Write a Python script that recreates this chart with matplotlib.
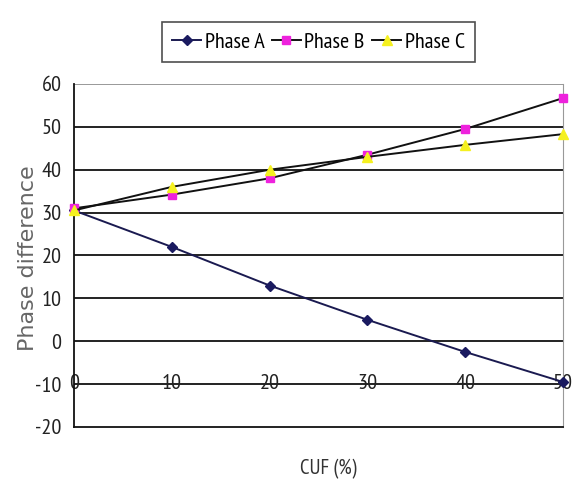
import matplotlib
matplotlib.use("Agg")
import matplotlib.pyplot as plt

plt.rcParams["axes.unicode_minus"] = False

cuf = [0, 10, 20, 30, 40, 50]
phase_a = [30.5, 22, 13, 5, -2.5, -9.5]
phase_b = [31, 34.2, 38, 43.5, 49.5, 56.7]
phase_c = [30.5, 36, 40, 43, 45.8, 48.3]
yticks = [-20, -10, 0, 10, 20, 30, 40, 50, 60]

narrow = ["PT Sans Narrow", "Roboto Condensed", "DejaVu Sans"]

fig = plt.figure(figsize=(5.76, 4.86), dpi=100)
ax = fig.add_axes([0.1285, 0.1214, 0.8489, 0.7058])

ax.plot(cuf, phase_a, color="#1a1a50", lw=1.4, marker="D", ms=5,
        mfc="#1a1a60", mec="#1a1a60", label="Phase A", zorder=4, clip_on=False)
ax.plot(cuf, phase_b, color="#111111", lw=1.4, marker="s", ms=6,
        mfc="#ee22dd", mec="#ee22dd", label="Phase B", zorder=4, clip_on=False)
ax.plot(cuf, phase_c, color="#111111", lw=1.4, marker="^", ms=7,
        mfc="#f5f020", mec="#f5f020", label="Phase C", zorder=4, clip_on=False)

ax.set_xlim(0, 50)
ax.set_ylim(-20, 60)
ax.set_yticks(yticks)
ax.set_xticks(cuf)
for y in yticks[1:-1]:
    ax.axhline(y, color="#111111", lw=1.3, zorder=1)
ax.axhline(60, color="#888888", lw=1.2, zorder=1)

ax.spines["right"].set_color("#999999")
ax.spines["top"].set_visible(False)
ax.spines["left"].set_color("#111111")
ax.spines["bottom"].set_color("#111111")
ax.spines["left"].set_linewidth(1.3)
ax.spines["bottom"].set_linewidth(1.3)

ax.tick_params(axis="y", length=0, pad=9, labelsize=16, labelcolor="#222222")
ax.tick_params(axis="x", length=0, pad=-38, labelsize=16, labelcolor="#222222")
for lab in ax.get_xticklabels() + ax.get_yticklabels():
    lab.set_fontfamily(narrow)

fig.text(0.049, 0.469, "Phase difference", rotation=90, ha="center", va="center",
         fontsize=16, color="#666666", family="DejaVu Sans")
fig.text(0.57, 0.035, "CUF (%)", ha="center", va="center", fontsize=15,
         color="#333333", family=narrow)

leg = fig.legend(loc="upper center", bbox_to_anchor=(0.553, 0.977), ncol=3,
                 frameon=True, fancybox=False, edgecolor="#222222",
                 prop={"family": narrow, "size": 16}, handlelength=1.3,
                 handletextpad=0.15, columnspacing=0.35, borderpad=0.45)
leg.get_frame().set_linewidth(1.2)

fig.savefig("out.png", dpi=100)
